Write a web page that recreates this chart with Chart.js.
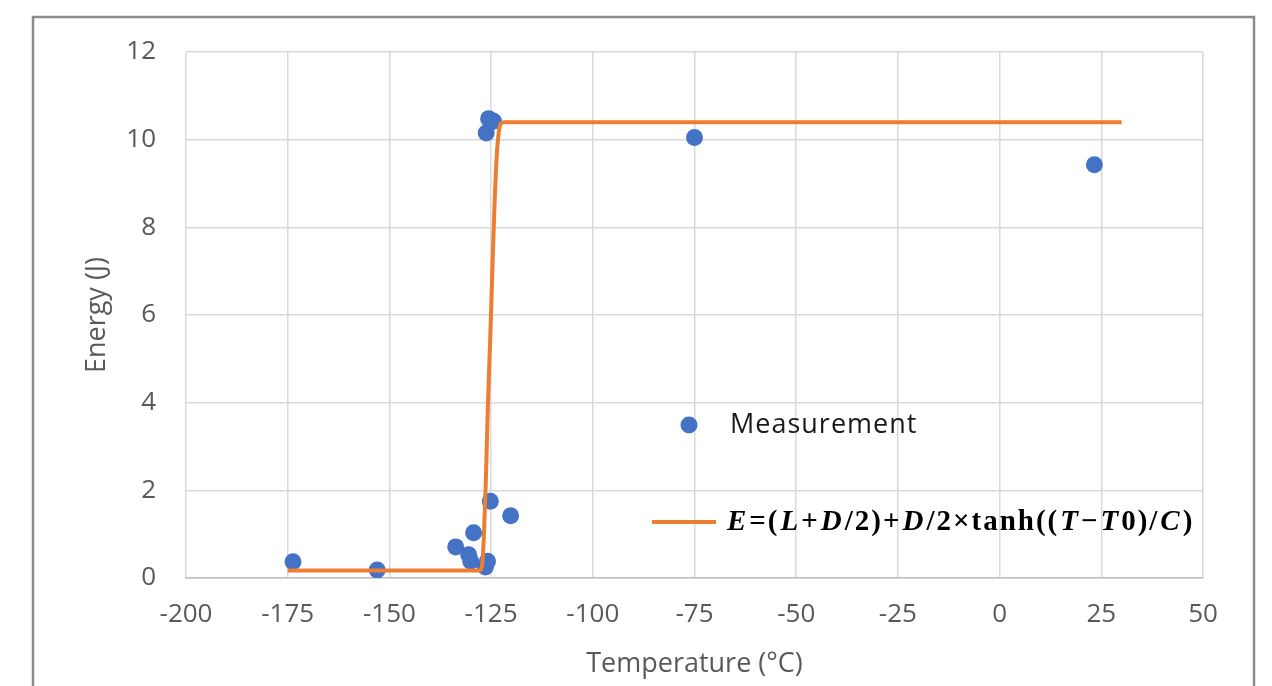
<!DOCTYPE html>
<html>
<head>
<meta charset="utf-8">
<script src="https://cdn.jsdelivr.net/npm/chart.js@4.4.1/dist/chart.umd.min.js"></script>
<style>
  html, body { margin: 0; padding: 0; background: #fff; }
  #graficoEnergia { display: block; }
</style>
</head>
<body>
<canvas id="graficoEnergia" width="1272" height="686"></canvas>
<script>
// measured points (temperature in °C, energy in J)
let measTemp   = [-173.7, -153, -133.7, -130.5, -130, -129.3, -126.4, -125.9, -125.2, -120.2, -126.2, -125.6, -124.4, -75, 23.3];
let measEnergy = [0.37, 0.18, 0.71, 0.53, 0.38, 1.03, 0.25, 0.38, 1.75, 1.42, 10.15, 10.48, 10.42, 10.05, 9.43];

// fitted curve
let fitTemp   = [-175, -127.8, -127.2, -126.8, -126.3, -125.8, -125.2, -124.7, -124.2, -123.7, -123.2, -122.7, -121.8, 30];
let fitEnergy = [0.17, 0.17, 0.3, 0.9, 2.2, 3.9, 5.5, 7.0, 8.4, 9.5, 10.1, 10.35, 10.4, 10.4];

let xTicks = [-200, -175, -150, -125, -100, -75, -50, -25, 0, 25, 50];
let yTicks = [0, 2, 4, 6, 8, 10, 12];

let measLabel = 'Measurement';
let fitLabel = 'E=(L+D/2)+D/2×tanh((T−T0)/C)';

// pieces of the formula: [text, italic]
let fitParts = [['E', true], ['=(', false], ['L', true], ['+', false], ['D', true], ['/2)+', false],
  ['D', true], ['/2×tanh((', false], ['T', true], ['−', false], ['T', true], ['0)/', false], ['C', true], [')', false]];

const azul = '#4472c4';
const naranja = '#ed7d31';
const gris = '#595959';

let puntos = measTemp.map((t, i) => ({x: t, y: measEnergy[i]}));
let curva = fitTemp.map((t, i) => ({x: t, y: fitEnergy[i]}));

// frame round the whole chart + legend inside the plot
const marco = {
  id: 'marco',
  beforeDraw(chart) {
    const ctx = chart.ctx;
    ctx.save();
    ctx.strokeStyle = '#8c8c8c';
    ctx.lineWidth = 2.5;
    ctx.strokeRect(33, 17, 1221, 720);
    ctx.restore();
  },
  afterDraw(chart) {
    const ctx = chart.ctx;
    const a = chart.chartArea;
    ctx.save();
    // measurement entry
    ctx.fillStyle = azul;
    ctx.beginPath();
    ctx.arc(a.left + 503, 425, 8.5, 0, Math.PI * 2);
    ctx.fill();
    ctx.fillStyle = '#1a1a1a';
    ctx.font = '27px "Open Sans"';
    ctx.textBaseline = 'middle';
    ctx.letterSpacing = '1px';
    ctx.fillText(measLabel, a.left + 544, 425);
    // fit entry
    ctx.strokeStyle = naranja;
    ctx.lineWidth = 4;
    ctx.beginPath();
    ctx.moveTo(a.left + 466, 522);
    ctx.lineTo(a.left + 530, 522);
    ctx.stroke();
    let x = a.left + 541;
    ctx.fillStyle = '#000';
    ctx.letterSpacing = '2px';
    fitParts.forEach(p => {
      ctx.font = (p[1] ? 'italic ' : '') + 'bold 29px "Liberation Serif"';
      ctx.fillText(p[0], x, 523);
      x += ctx.measureText(p[0]).width + 1;
    });
    ctx.restore();
  }
};

let chart = new Chart(document.getElementById('graficoEnergia').getContext('2d'), {
  type: 'scatter',
  data: {
    datasets: [{
      type: 'line',
      label: fitLabel,
      data: curva,
      borderColor: naranja,
      borderWidth: 4,
      pointRadius: 0,
      fill: false,
      cubicInterpolationMode: 'monotone',
      order: 0
    }, {
      label: measLabel,
      data: puntos,
      backgroundColor: azul,
      borderWidth: 0,
      pointRadius: 8.5,
      order: 1
    }]
  },
  options: {
    responsive: false,
    animation: false,
    layout: { padding: { top: 52, right: 69, left: 0, bottom: 0 } },
    plugins: {
      legend: { display: false },
      tooltip: { enabled: false }
    },
    scales: {
      x: {
        type: 'linear',
        min: -200,
        max: 50,
        afterBuildTicks: s => { s.ticks = xTicks.map(v => ({value: v})); },
        afterFit: s => { s.height = 108; s.paddingLeft = 0; s.paddingRight = 0; },
        grid: { color: '#d9d9d9', lineWidth: 1.5, drawTicks: false },
        border: { color: '#bfbfbf', width: 1.5 },
        ticks: { color: gris, font: { family: 'Open Sans', size: 26 }, padding: 21, maxRotation: 0 },
        title: { display: true, text: 'Temperature (°C)', color: gris, font: { family: 'Open Sans', size: 27 }, padding: { top: 0, bottom: 5 } }
      },
      y: {
        min: 0,
        max: 12,
        afterBuildTicks: s => { s.ticks = yTicks.map(v => ({value: v})); },
        afterFit: s => { s.width = 186; s.paddingTop = 0; s.paddingBottom = 0; },
        grid: { color: '#d9d9d9', lineWidth: 1.5, drawTicks: false },
        border: { display: false },
        ticks: { color: gris, font: { family: 'Open Sans', size: 26 }, padding: 30 },
        title: { display: true, text: 'Energy (J)', color: gris, font: { family: 'Open Sans', size: 27 }, padding: { top: 81, bottom: 0 } }
      }
    }
  },
  plugins: [marco]
});
</script>
</body>
</html>
